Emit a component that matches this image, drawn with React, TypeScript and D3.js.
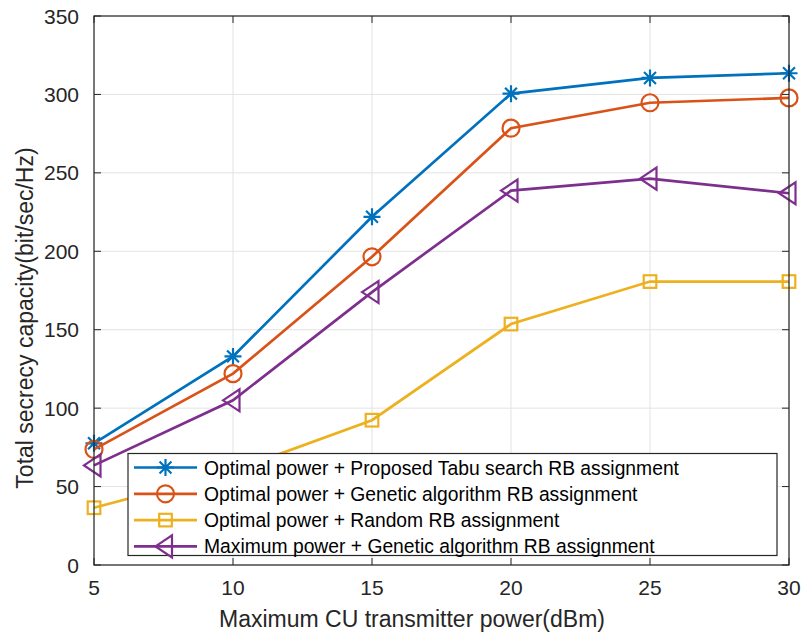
import * as d3 from "d3";

const powers = [5, 10, 15, 20, 25, 30];
const tabuValues = [77.6, 133, 222, 300.5, 310.5, 313.5];
const geneticValues = [73.7, 122, 196.5, 278.5, 294.7, 297.8];
const randomValues = [36.5, 60, 92.3, 153.6, 180.7, 180.7];
const maxPowerValues = [63.5, 105, 174, 238.7, 246.3, 237];
const xTicks = [5, 10, 15, 20, 25, 30];
const yTicks = [0, 50, 100, 150, 200, 250, 300, 350];

const seriesNames = [
  "Optimal power + Proposed Tabu search RB assignment",
  "Optimal power + Genetic algorithm RB assignment",
  "Optimal power + Random RB assignment",
  "Maximum power + Genetic algorithm RB assignment",
];

type Marker = "star" | "circle" | "square" | "triangle";

const series: { name: string; values: number[]; color: string; marker: Marker }[] = [
  { name: seriesNames[0], values: tabuValues, color: "#0072BD", marker: "star" },
  { name: seriesNames[1], values: geneticValues, color: "#D95319", marker: "circle" },
  { name: seriesNames[2], values: randomValues, color: "#EDB120", marker: "square" },
  { name: seriesNames[3], values: maxPowerValues, color: "#7E2F8E", marker: "triangle" },
];

const width = 801;
const height = 634;
const margin = { left: 94, right: 12, top: 16, bottom: 69 };
const font = "'Liberation Sans', Arial, Helvetica, sans-serif";
const axisColor = "#262626";

function MarkerShape({ type, x, y, color }: { type: Marker; x: number; y: number; color: string }) {
  const common = { fill: "none", stroke: color, strokeWidth: 2.2 };
  if (type === "circle") return <circle cx={x} cy={y} r={8.5} {...common} />;
  if (type === "square") return <rect x={x - 6.3} y={y - 6.3} width={12.6} height={12.6} {...common} />;
  if (type === "triangle") {
    return <path d={`M${x - 10},${y}L${x + 6.5},${y - 11}L${x + 6.5},${y + 11}Z`} {...common} />;
  }
  const r = 8.5;
  const d = r * 0.7;
  return (
    <path
      d={`M${x - r},${y}H${x + r}M${x},${y - r}V${y + r}M${x - d},${y - d}L${x + d},${y + d}M${x - d},${y + d}L${x + d},${y - d}`}
      stroke={color}
      strokeWidth={2.2}
      fill="none"
    />
  );
}

export default function App() {
  const x = d3.scaleLinear().domain([5, 30]).range([margin.left, width - margin.right]);
  const y = d3.scaleLinear().domain([0, 350]).range([height - margin.bottom, margin.top]);
  const [x0, x1] = x.range();
  const [y0, y1] = y.range();
  const tick = 7;

  const line = d3
    .line<number>()
    .x((_, i) => x(powers[i]))
    .y((d) => y(d));

  const legend = { x: 128, y: 453.5, w: 649, h: 102, rowH: 26.3 };

  return (
    <div style={{ position: "absolute", left: 0, top: 0 }}>
      <svg width={width} height={height} style={{ display: "block", background: "#fff" }} fontFamily={font}>
        {/* grid */}
        {xTicks.map((t) => (
          <line key={`gx${t}`} x1={x(t)} x2={x(t)} y1={y0} y2={y1} stroke="#e3e3e3" strokeWidth={1} />
        ))}
        {yTicks.map((t) => (
          <line key={`gy${t}`} x1={x0} x2={x1} y1={y(t)} y2={y(t)} stroke="#e3e3e3" strokeWidth={1} />
        ))}

        {/* series */}
        {series.map((s) => (
          <g key={s.name}>
            <path d={line(s.values) ?? ""} fill="none" stroke={s.color} strokeWidth={2.7} />
            {s.values.map((v, i) => (
              <MarkerShape key={i} type={s.marker} x={x(powers[i])} y={y(v)} color={s.color} />
            ))}
          </g>
        ))}

        {/* ticks */}
        {xTicks.map((t) => (
          <g key={`tx${t}`}>
            <line x1={x(t)} x2={x(t)} y1={y0} y2={y0 - tick} stroke={axisColor} />
            <line x1={x(t)} x2={x(t)} y1={y1} y2={y1 + tick} stroke={axisColor} />
            <text x={x(t)} y={y0 + 30} textAnchor="middle" fontSize={21} fill={axisColor}>
              {t}
            </text>
          </g>
        ))}
        {yTicks.map((t) => (
          <g key={`ty${t}`}>
            <line x1={x0} x2={x0 + tick} y1={y(t)} y2={y(t)} stroke={axisColor} />
            <line x1={x1} x2={x1 - tick} y1={y(t)} y2={y(t)} stroke={axisColor} />
            <text x={x0 - 15} y={y(t) + 7.5} textAnchor="end" fontSize={21} fill={axisColor}>
              {t}
            </text>
          </g>
        ))}
        <rect x={x0} y={y1} width={x1 - x0} height={y0 - y1} fill="none" stroke={axisColor} strokeWidth={1.2} />

        {/* axis labels */}
        <text x={412} y={627} textAnchor="middle" fontSize={23} fill={axisColor}>
          Maximum CU transmitter power(dBm)
        </text>
        <text
          transform={`translate(33,318) rotate(-90)`}
          textAnchor="middle"
          fontSize={23}
          fill={axisColor}
        >
          Total secrecy capacity(bit/sec/Hz)
        </text>

        {/* legend */}
        <rect x={legend.x} y={legend.y} width={legend.w} height={legend.h} fill="#fff" stroke={axisColor} strokeWidth={1.2} />
        {series.map((s, i) => {
          const cy = legend.y + 14 + i * legend.rowH;
          return (
            <g key={`lg${i}`}>
              <line x1={legend.x + 6} x2={legend.x + 69} y1={cy} y2={cy} stroke={s.color} strokeWidth={2.7} />
              <MarkerShape type={s.marker} x={legend.x + 37.5} y={cy} color={s.color} />
              <text x={legend.x + 76} y={cy + 7} fontSize={19.3} fill="#000">
                {s.name}
              </text>
            </g>
          );
        })}
      </svg>
    </div>
  );
}
